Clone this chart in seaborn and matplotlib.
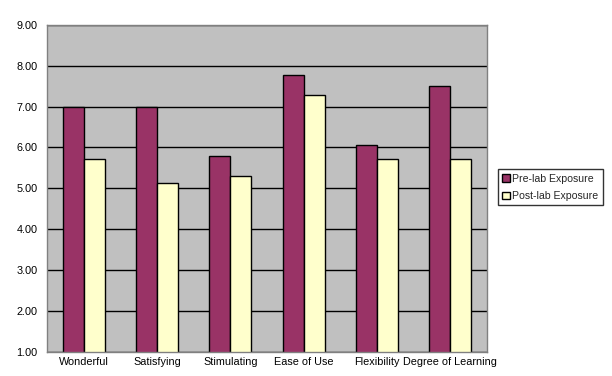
import numpy as np
import pandas as pd
import matplotlib
matplotlib.use('Agg')
import matplotlib.pyplot as plt
import seaborn as sns

# ==========================================
# Data
# ==========================================
categories = ['Wonderful', 'Satisfying', 'Stimulating', 'Ease of Use',
              'Flexibility', 'Degree of Learning']
pre_lab = [7.00, 7.00, 5.78, 7.77, 6.05, 7.50]
post_lab = [5.71, 5.14, 5.29, 7.29, 5.71, 5.71]
series_names = ['Pre-lab Exposure', 'Post-lab Exposure']
y_ticks = [1, 2, 3, 4, 5, 6, 7, 8, 9]

df = pd.DataFrame({
    'category': categories * 2,
    'value': pre_lab + post_lab,
    'series': [series_names[0]] * len(categories) + [series_names[1]] * len(categories),
})

# ==========================================
# Plotting
# ==========================================
sns.set_style('white')
plt.rcParams.update({
    'font.family': ['Liberation Sans', 'DejaVu Sans'],
    'font.size': 7.8,
})

fig = plt.figure(figsize=(6.12, 3.76), dpi=100)
ax = fig.add_axes([47 / 612, (376 - 351.5) / 376, 440 / 612, 326.5 / 376])
ax.set_facecolor('#C0C0C0')

sns.barplot(data=df, x='category', y='value', hue='series', ax=ax,
            palette=['#993366', '#FFFFCC'], width=0.573,
            edgecolor='black', linewidth=1.0, saturation=1, gap=0)

# Excel-style axis starting at 1.00
ax.set_ylim(1, 9)
ax.set_xlim(-0.5, len(categories) - 0.5)
ax.set_yticks(y_ticks)
ax.set_yticklabels([f'{t:.2f}' for t in y_ticks])
ax.yaxis.grid(True, color='black', linewidth=1.0)
ax.set_axisbelow(True)
ax.set_xlabel('')
ax.set_ylabel('')

for side in ['top', 'right', 'bottom', 'left']:
    ax.spines[side].set_color('#808080')
    ax.spines[side].set_linewidth(1.0)

ax.tick_params(axis='y', direction='out', length=4, width=0.8, color='black',
               pad=3, labelsize=7.8, labelcolor='black')
ax.tick_params(axis='x', length=0, pad=4, labelsize=7.8, labelcolor='black')

handles, labels = ax.get_legend_handles_labels()
if ax.get_legend() is not None:
    ax.get_legend().remove()
leg = fig.legend(handles, labels, loc='upper left',
                 bbox_to_anchor=(497.5 / 612, 1 - 169.5 / 376),
                 frameon=True, fancybox=False, fontsize=7.6,
                 handlelength=0.75, handleheight=0.75, handletextpad=0.25,
                 borderpad=0.4, labelspacing=0.7, borderaxespad=0)
leg.get_frame().set_edgecolor('black')
leg.get_frame().set_linewidth(1.0)

fig.savefig('out.png', dpi=100)
